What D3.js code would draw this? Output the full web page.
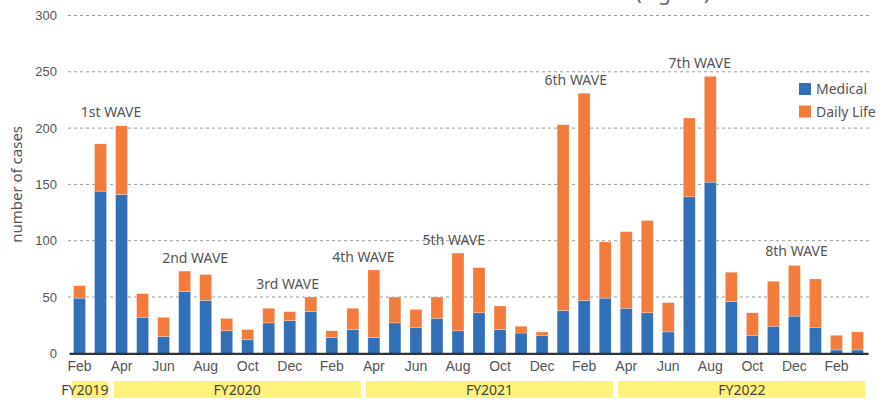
<!DOCTYPE html>
<html>
<head>
<meta charset="utf-8">
<script src="https://cdn.jsdelivr.net/npm/d3@7"></script>
<style>
  body { margin: 0; background: #fff; }
  svg { display: block; font-family: "Noto Sans", sans-serif; }
  .axis text { fill: #555; font-size: 13px; }
</style>
</head>
<body>
<div id="chart"></div>
<script>
// months Feb 2019 .. Mar 2023
var months = ['Feb', 'Mar', 'Apr', 'May', 'Jun', 'Jul', 'Aug', 'Sep', 'Oct', 'Nov', 'Dec', 'Jan',
  'Feb', 'Mar', 'Apr', 'May', 'Jun', 'Jul', 'Aug', 'Sep', 'Oct', 'Nov', 'Dec', 'Jan',
  'Feb', 'Mar', 'Apr', 'May', 'Jun', 'Jul', 'Aug', 'Sep', 'Oct', 'Nov', 'Dec', 'Jan',
  'Feb', 'Mar'];
var medical = [49, 144, 141, 32, 15, 55, 47, 20, 12, 27, 29, 37,
  14, 21, 14, 27, 23, 31, 20, 36, 21, 18, 16, 38,
  47, 49, 40, 36, 19, 139, 152, 46, 16, 24, 33, 23,
  3, 3];
var dailyLife = [11, 42, 61, 21, 17, 18, 23, 11, 9, 13, 8, 13,
  6, 19, 60, 23, 16, 19, 69, 40, 21, 6, 3, 165,
  184, 50, 68, 82, 26, 70, 94, 26, 20, 40, 45, 43,
  13, 16];
var yTicks = [0, 50, 100, 150, 200, 250, 300];
var fiscalYears = ['FY2019', 'FY2020', 'FY2021', 'FY2022'];
var fyStart = [0, 2, 14, 26];
var fyEnd = [1, 13, 25, 37];
var waveLabels = ['1st WAVE', '2nd WAVE', '3rd WAVE', '4th WAVE', '5th WAVE', '6th WAVE', '7th WAVE', '8th WAVE'];
var wavePos = [1.5, 5.5, 9.9, 13.5, 17.8, 23.6, 29.5, 34.1];
var waveValue = [210, 80, 57, 81, 96, 238, 253, 86];
var seriesNames = ['Medical', 'Daily Life'];
var colors = ['#3170b8', '#f37b3b'];

var width = 886, height = 400;
var plotLeft = 69, plotRight = 868, plotTop = 15.5, plotBottom = 353.3;

var svg = d3.select('#chart').append('svg')
  .attr('width', width)
  .attr('height', height);

// title sits above the frame, only its lowest pixels show
var title = svg.append('text')
  .attr('x', 443)
  .attr('y', -0.5)
  .attr('text-anchor', 'middle')
  .style('font-size', '21px');
title.append('tspan').attr('fill', '#5cc3ee').text('Number of Consultations Related to COVID-19 ');
title.append('tspan').attr('fill', '#666').text('(Figure)');

var x = d3.scaleBand().domain(d3.range(months.length))
  .range([plotLeft, plotRight])
  .paddingInner(0.43)
  .paddingOuter(0.215);
var y = d3.scaleLinear().domain([0, 300]).range([plotBottom, plotTop]);

// gridlines
svg.append('g')
  .selectAll('line')
  .data(yTicks.slice(1))
  .enter().append('line')
  .attr('x1', plotLeft - 1)
  .attr('x2', plotRight + 2)
  .attr('y1', function(d) { return y(d); })
  .attr('y2', function(d) { return y(d); })
  .attr('stroke', '#9a9a9a')
  .attr('stroke-width', 1)
  .attr('stroke-dasharray', '3,3');

// y axis labels
svg.append('g')
  .attr('class', 'axis')
  .attr('transform', 'translate(' + (plotLeft - 1) + ',0)')
  .call(d3.axisLeft(y).tickValues(yTicks).tickSize(0).tickPadding(11))
  .call(function(g) { g.select('.domain').remove(); });

svg.append('text')
  .attr('transform', 'translate(22,' + y(150) + ') rotate(-90)')
  .attr('text-anchor', 'middle')
  .attr('fill', '#555')
  .style('font-size', '15px')
  .text('number of cases');

// stacked bars
var rows = months.map(function(m, i) {
  return { i: i, medical: medical[i], daily: dailyLife[i] };
});
var stack = d3.stack().keys(['medical', 'daily'])(rows);

svg.append('g')
  .selectAll('g')
  .data(stack)
  .enter().append('g')
  .attr('fill', function(d, k) { return colors[k]; })
  .selectAll('rect')
  .data(function(d) { return d; })
  .enter().append('rect')
  .attr('x', function(d) { return x(d.data.i); })
  .attr('width', x.bandwidth())
  .attr('y', function(d) { return y(d[1]); })
  .attr('height', function(d) { return y(d[0]) - y(d[1]); })
  .attr('stroke', '#fff')
  .attr('stroke-opacity', 0.45)
  .attr('stroke-width', 0.6);

// x axis
var xAxis = svg.append('g')
  .attr('class', 'axis')
  .attr('transform', 'translate(0,' + plotBottom + ')')
  .call(d3.axisBottom(x)
    .tickValues(d3.range(0, months.length, 2))
    .tickFormat(function(i) { return months[i]; })
    .tickSize(0)
    .tickSizeOuter(0)
    .tickPadding(8));
xAxis.select('.domain').attr('stroke', '#333').attr('stroke-width', 2.2);
xAxis.selectAll('text').style('font-size', '14px');

// fiscal year strip
var fy = svg.append('g');
fiscalYears.forEach(function(name, k) {
  var x0 = x(fyStart[k]) - x.step() * x.paddingInner() / 2 + 2.5;
  var x1 = x(fyEnd[k]) + x.bandwidth() + x.step() * x.paddingInner() / 2 - 2.5;
  fy.append('rect')
    .attr('x', x0)
    .attr('y', 381)
    .attr('width', x1 - x0)
    .attr('height', 17)
    .attr('fill', '#fff27a');
  fy.append('text')
    .attr('x', k === 0 ? x1 : (x0 + x1) / 2)
    .attr('y', 395)
    .attr('text-anchor', k === 0 ? 'end' : 'middle')
    .attr('fill', '#444')
    .style('font-size', '14px')
    .text(name);
});

// wave annotations
svg.append('g')
  .selectAll('text')
  .data(waveLabels)
  .enter().append('text')
  .attr('x', function(d, k) { return x(0) + x.bandwidth() / 2 + wavePos[k] * x.step(); })
  .attr('y', function(d, k) { return y(waveValue[k]); })
  .attr('text-anchor', 'middle')
  .attr('fill', '#555')
  .style('font-size', '14px')
  .text(function(d) { return d; });

// legend
var legend = svg.append('g').attr('transform', 'translate(799,83)');
seriesNames.forEach(function(name, k) {
  legend.append('rect')
    .attr('x', 0)
    .attr('y', k * 22.5)
    .attr('width', 12)
    .attr('height', 12)
    .attr('fill', colors[k]);
  legend.append('text')
    .attr('x', 17)
    .attr('y', k * 22.5 + 11)
    .attr('fill', '#555')
    .style('font-size', '14px')
    .text(name);
});
</script>
</body>
</html>
